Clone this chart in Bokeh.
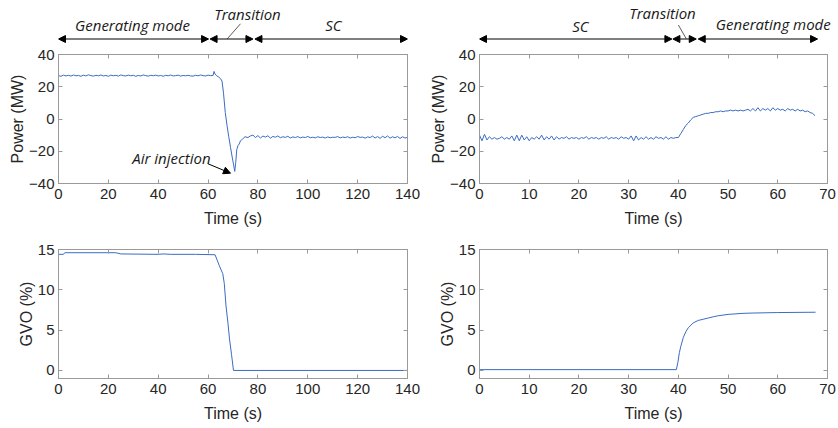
from bokeh.plotting import figure
from bokeh.models import Range1d, LinearAxis, FixedTicker, Arrow, NormalHead, Label
from bokeh.layouts import column, row
from bokeh.embed import file_html
from bokeh.resources import INLINE

# ---------------- data ----------------
# Left case: generating mode -> synchronous condenser (SC)
# power, 1 s samples from t = 0 s to 61 s
pl_gen = [26.9, 26.5, 27.2, 26.7, 27.1, 26.6, 27.3, 26.8,
          27.0, 26.5, 27.2, 26.7, 27.4, 26.9, 26.6, 27.1,
          26.8, 27.3, 26.7, 27.0, 26.5, 27.2, 26.8, 27.1,
          26.6, 27.3, 26.9, 26.7, 27.2, 26.8, 27.1, 26.5,
          27.0, 26.7, 27.3, 26.9, 26.6, 27.1, 26.8, 27.2,
          26.7, 27.0, 26.5, 27.1, 26.8, 27.3, 26.7, 26.9,
          27.2, 26.6, 27.0, 26.8, 27.1, 26.7, 26.6, 27.1,
          26.8, 27.3, 26.9, 26.7, 27.2, 26.9]
# power during transition (irregular times)
pl_tr_t = [62.0, 62.4, 62.8, 63.5, 64.3, 65.0, 65.6, 66.2, 66.9, 67.6, 68.3, 69.0,
           69.6, 70.2, 70.7, 71.1, 71.5, 72.0, 72.5, 73.0, 73.8, 74.8, 76.0]
pl_tr_p = [27.0, 29.5, 27.8, 26.8, 26.0, 25.0, 23.5, 16.0, 4.0, -4.0, -11.0, -17.5,
           -23.0, -28.0, -32.5, -27.0, -19.0, -16.5, -15.5, -13.5, -12.5, -11.0, -11.5]
# power in SC mode, 1 s samples from t = 77 s to 140 s
pl_sc = [-10.5, -10.0, -11.5, -10.3, -11.8, -10.6, -11.2, -10.4,
         -11.9, -10.8, -11.3, -10.5, -11.6, -11.0, -11.4, -10.7,
         -11.8, -11.1, -11.5, -10.9, -11.7, -11.2, -11.5, -10.8,
         -11.6, -11.3, -11.7, -11.0, -11.5, -11.2, -11.8, -11.1,
         -11.6, -11.3, -11.4, -10.9, -11.7, -11.2, -11.5, -11.0,
         -11.8, -11.3, -11.6, -10.9, -11.4, -11.2, -11.9, -11.1,
         -11.5, -10.6, -11.8, -10.9, -12.0, -10.7, -11.6, -10.5,
         -11.9, -11.0, -11.7, -10.8, -12.1, -11.0, -11.8, -11.4]
# guide vane opening
gl_t = [0, 2, 2.5, 23, 25, 40, 42, 45, 55, 62.8, 63.5, 64.5, 65.9, 66.5, 67.2,
        68.0, 68.6, 69.4, 70.2, 140]
gl_v = [14.4, 14.4, 14.6, 14.6, 14.45, 14.4, 14.45, 14.4, 14.4, 14.35, 13.8, 13.0,
        12.0, 10.8, 8.0, 5.8, 3.9, 2.0, 0.0, 0.0]

# Right case: SC -> generating mode, power at 0.5 s samples from 0 to 67.5 s
pr = [-10.0, -13.5, -9.5, -13.0, -11.0, -12.5, -11.5, -12.5, -12.0, -11.0,
      -12.5, -11.5, -12.5, -10.5, -13.5, -10.0, -13.5, -10.0, -13.0, -11.0,
      -13.5, -11.5, -12.5, -11.0, -12.5, -10.0, -13.0, -11.0, -12.5, -10.5,
      -13.0, -11.0, -12.5, -11.5, -12.0, -11.0, -12.5, -11.5, -12.0, -11.5,
      -12.5, -11.5, -12.0, -11.0, -12.5, -11.5, -12.0, -11.5, -12.5, -11.5,
      -12.0, -11.0, -12.5, -11.5, -12.0, -11.5, -12.5, -11.0, -12.0, -11.5,
      -12.5, -10.5, -13.5, -10.5, -13.0, -11.5, -12.5, -11.0, -12.5, -11.5,
      -12.5, -11.0, -12.0, -11.5, -12.5, -11.0, -12.5, -11.5, -12.0, -11.5,
      -11.5, -9.0, -6.5, -4.0, -2.5, -0.5, 1.0, 1.5, 2.0, 2.5,
      3.0, 3.5, 3.5, 4.0, 4.0, 4.5, 4.5, 5.0, 4.5, 5.0,
      5.0, 5.5, 5.0, 5.5, 5.0, 5.5, 5.0, 5.5, 6.0, 5.0,
      6.5, 5.0, 7.0, 5.0, 6.5, 5.5, 6.5, 5.0, 7.0, 5.5,
      6.5, 5.5, 6.0, 5.0, 6.5, 5.5, 6.0, 5.0, 6.0, 5.0,
      5.5, 4.5, 5.0, 4.0, 3.5, 2.0]
gr_t = [0, 39.6, 39.9, 40.2, 40.5, 41.0, 41.5, 42.0, 43.0, 44.0, 45.0, 46.0, 47.0,
        48.0, 50.0, 53.0, 55.0, 60.0, 67.6]
gr_v = [0.1, 0.1, 1.0, 2.2, 3.0, 4.1, 4.8, 5.3, 5.9, 6.2, 6.35, 6.5, 6.65, 6.78,
        6.95, 7.08, 7.12, 7.18, 7.22]

# tick values
xt_left = [0, 20, 40, 60, 80, 100, 120, 140]
xt_right = [0, 10, 20, 30, 40, 50, 60, 70]
yt_power = [-40, -20, 0, 20, 40]
yt_gvo = [0, 5, 10, 15]

# time vectors from the sample index
pl_t = [float(i) for i in range(len(pl_gen))] + pl_tr_t + [77.0 + i for i in range(len(pl_sc))]
pl_p = pl_gen + pl_tr_p + pl_sc
pr_t = [0.5 * i for i in range(len(pr))]

# ---------------- styling ----------------
LINE = "#3a6cc2"
FRAME = "#9a9a9a"
TXT = "#262626"
TICK_FONT = "Liberation Sans"
ANN_FONT = "Open Sans"

W1, W2 = 421, 416
HH, H1, H2 = 44, 191, 191
BL1, BR1, BL2, BR2 = 58, 14, 58, 10


def make_fig(xmax, xticks, ymin, ymax, yticks, ylabel, w, h, bl, br, bt, bb):
    p = figure(width=w, height=h, x_range=Range1d(0, xmax), y_range=Range1d(ymin, ymax),
               min_border_left=bl, min_border_right=br, min_border_top=bt,
               min_border_bottom=bb, toolbar_location=None, output_backend="svg")
    p.grid.visible = False
    p.outline_line_color = FRAME
    p.outline_line_width = 1
    p.xaxis.ticker = FixedTicker(ticks=xticks)
    p.yaxis.ticker = FixedTicker(ticks=yticks)
    p.xaxis.axis_label = "Time (s)"
    p.yaxis.axis_label = ylabel
    for ax in (p.xaxis[0], p.yaxis[0]):
        ax.axis_line_color = FRAME
        ax.major_tick_line_color = FRAME
        ax.major_tick_in = 4
        ax.major_tick_out = 0
        ax.minor_tick_line_color = None
        ax.major_label_text_font = TICK_FONT
        ax.major_label_text_font_size = "15px"
        ax.major_label_text_color = TXT
        ax.axis_label_text_font = TICK_FONT
        ax.axis_label_text_font_size = "16px"
        ax.axis_label_text_font_style = "normal"
        ax.axis_label_text_color = TXT
    p.xaxis.major_label_standoff = 5
    p.xaxis.axis_label_standoff = 8
    p.yaxis.major_label_standoff = 4
    p.yaxis.axis_label_standoff = 0
    # mirrored inward ticks on top and right (box on): unlabeled minor ticks only
    for loc, ticks in (("above", xticks), ("right", yticks)):
        ax = LinearAxis(ticker=FixedTicker(ticks=[], minor_ticks=ticks),
                        major_label_standoff=0, axis_label_standoff=0,
                        axis_line_color=FRAME, major_tick_line_color=None,
                        minor_tick_line_color=FRAME, minor_tick_in=4, minor_tick_out=0)
        p.add_layout(ax, loc)
    return p


def make_header(x_range, w, bl, br):
    h = figure(width=w, height=HH, x_range=x_range, y_range=Range1d(0, HH),
               min_border_left=bl, min_border_right=br, min_border_top=0, min_border_bottom=0,
               x_axis_location=None, y_axis_location=None, toolbar_location=None,
               output_backend="svg")
    h.grid.visible = False
    h.outline_line_color = None
    return h


def head():
    return NormalHead(size=7, fill_color="black", line_color="black")


def dbl_arrow(p, x0, x1, y):
    p.add_layout(Arrow(start=head(), end=head(), x_start=x0, y_start=y, x_end=x1, y_end=y,
                       line_color="black", line_width=1))


def ann(p, x, y, text):
    p.add_layout(Label(x=x, y=y, text=text, text_font=ANN_FONT, text_font_style="italic",
                       text_font_size="15px", text_align="center", text_baseline="middle",
                       text_color="#1a1a1a"))


# top-left
p1 = make_fig(140, xt_left, -40, 40, yt_power, "Power (MW)", W1, H1, BL1, BR1, 10, 52)
p1.line(pl_t, pl_p, line_color=LINE, line_width=1)
ann(p1, 45.3, -24.0, "Air injection")
p1.add_layout(Arrow(end=NormalHead(size=7, fill_color="black", line_color="black"),
                    x_start=60.0, y_start=-27.8, x_end=69.0, y_end=-33.6,
                    line_color="black", line_width=1))

h1 = make_header(p1.x_range, W1, BL1, BR1)
dbl_arrow(h1, 0, 60.2, 5.5)
dbl_arrow(h1, 60.8, 78.0, 5.5)
dbl_arrow(h1, 78.8, 140, 5.5)
ann(h1, 29.7, 20.0, "Generating mode")
ann(h1, 75.8, 30.5, "Transition")
ann(h1, 110.3, 20.0, "SC")
h1.segment(x0=[67.7], y0=[5.7], x1=[73.0], y1=[20.7], line_color="#333333", line_width=0.8)

# top-right
p2 = make_fig(70, xt_right, -40, 40, yt_power, "Power (MW)", W2, H1, BL2, BR2, 10, 52)
p2.line(pr_t, pr, line_color=LINE, line_width=1)

# header frame runs to the page edge so the last label is not cut; same scale as p2
frame2 = W2 - BL2 - BR2
h2 = make_header(Range1d(0, 70 * (W2 - BL2) / frame2), W2, BL2, 0)
dbl_arrow(h2, 0, 38.7, 5.5)
dbl_arrow(h2, 38.9, 43.6, 5.5)
dbl_arrow(h2, 44.0, 68.0, 5.5)
ann(h2, 20.3, 19.0, "SC")
ann(h2, 36.8, 32.0, "Transition")
ann(h2, 59.1, 21.0, "Generating mode")
h2.segment(x0=[41.6], y0=[5.7], x1=[40.0], y1=[19.5], line_color="#333333", line_width=0.8)

# bottom-left
p3 = make_fig(140, xt_left, -1, 15, yt_gvo, "GVO (%)", W1, H2, BL1, BR1, 14, 48)
p3.line(gl_t, gl_v, line_color=LINE, line_width=1)

# bottom-right
p4 = make_fig(70, xt_right, -1, 15, yt_gvo, "GVO (%)", W2, H2, BL2, BR2, 14, 48)
p4.line(gr_t, gr_v, line_color=LINE, line_width=1)

layout = column(row(h1, h2), row(p1, p2), row(p3, p4))
open("out.html", "w").write(file_html(layout, INLINE))
